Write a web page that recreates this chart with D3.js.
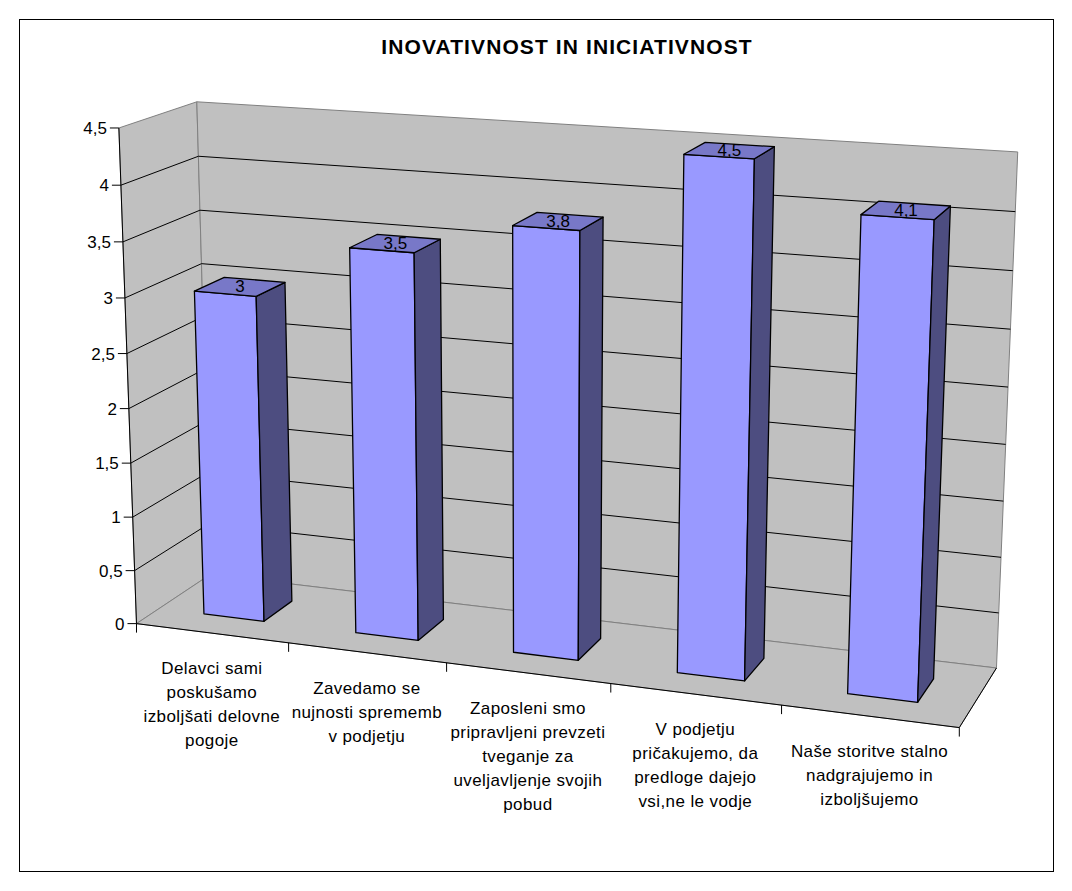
<!DOCTYPE html>
<html>
<head>
<meta charset="utf-8">
<script src="https://cdn.jsdelivr.net/npm/d3@7"></script>
<style>
  html, body { margin: 0; padding: 0; background: #fff; }
  svg { display: block; font-family: "Liberation Sans", Arial, sans-serif; }
</style>
</head>
<body>
<svg id="chart" width="1072" height="891"></svg>
<script>
// ---- data ----
const title = "INOVATIVNOST IN INICIATIVNOST";
const categories = [
  "Delavci sami poskušamo izboljšati delovne pogoje",
  "Zavedamo se nujnosti sprememb v podjetju",
  "Zaposleni smo pripravljeni prevzeti tveganje za uveljavljenje svojih pobud",
  "V podjetju pričakujemo, da predloge dajejo vsi,ne le vodje",
  "Naše storitve stalno nadgrajujemo in izboljšujemo"
];
const categoryLines = [
  ["Delavci sami", "poskušamo", "izboljšati delovne", "pogoje"],
  ["Zavedamo se", "nujnosti sprememb", "v podjetju"],
  ["Zaposleni smo", "pripravljeni prevzeti", "tveganje za", "uveljavljenje svojih", "pobud"],
  ["V podjetju", "pričakujemo, da", "predloge dajejo", "vsi,ne le vodje"],
  ["Naše storitve stalno", "nadgrajujemo in", "izboljšujemo"]
];
const values = [3, 3.5, 3.8, 4.5, 4.1];
const valueLabels = ["3", "3,5", "3,8", "4,5", "4,1"];
const yTicks = [0, 0.5, 1, 1.5, 2, 2.5, 3, 3.5, 4, 4.5];
const yTickLabels = ["0", "0,5", "1", "1,5", "2", "2,5", "3", "3,5", "4", "4,5"];

// ---- scales (model space: across 0..1, height 0..1, depth 0..1) ----
const x = d3.scaleBand().domain(d3.range(categories.length)).range([0, 1])
  .paddingInner(0.6).paddingOuter(0.3);
const y = d3.scaleLinear().domain([0, 4.5]).range([0, 1]);
const depth = [0.3, 0.7]; // column depth inside the floor

// ---- perspective camera: fitted from the frame's screen anchors ----
// [across, value, depth, screenX, screenY]
const frameAnchors = [
  [0, 0, 0, 137.3, 623.3], [0, 4.5, 0, 118, 127.7], [0, 4.5, 1, 197.7, 101.7],
  [0, 0, 1, 209.4, 574.8], [1, 0, 0, 959.5, 727.5], [1, 0, 1, 996.7, 667.3],
  [1, 4.5, 1, 1017.7, 152.3],
  [0.2, 0, 0, 288.3, 643.3], [0.4, 0, 0, 446.7, 663.3], [0.6, 0, 0, 610, 683.3],
  [0.8, 0, 0, 781.7, 705.5],
  [0, 4, 0, 120.7, 185], [0, 3.5, 0, 122, 241.7], [0, 3, 0, 125, 299.3],
  [0, 2.5, 0, 127.5, 354], [0, 2, 0, 129.5, 408], [0, 1.5, 0, 131.3, 462],
  [0, 1, 0, 133, 516], [0, 0.5, 0, 134.3, 571.7]
];

function fitCamera(pts) {
  const S = 500;
  const rows = [], rhs = [];
  pts.forEach(([a, v, d, sx, sy]) => {
    const X = a, Y = y(v), Z = d, u = (sx - S) / S, w = (sy - S) / S;
    rows.push([X, Y, Z, 1, 0, 0, 0, 0, -u * X, -u * Y, -u * Z]); rhs.push(u);
    rows.push([0, 0, 0, 0, X, Y, Z, 1, -w * X, -w * Y, -w * Z]); rhs.push(w);
  });
  const n = 11;
  const M = d3.range(n).map(i => d3.range(n + 1).map(j => {
    if (j === n) return d3.sum(rows, (r, k) => r[i] * rhs[k]);
    return d3.sum(rows, r => r[i] * r[j]);
  }));
  for (let c = 0; c < n; c++) {
    let p = c;
    for (let r = c + 1; r < n; r++) if (Math.abs(M[r][c]) > Math.abs(M[p][c])) p = r;
    [M[c], M[p]] = [M[p], M[c]];
    for (let r = 0; r < n; r++) {
      if (r === c) continue;
      const f = M[r][c] / M[c][c];
      for (let k = c; k <= n; k++) M[r][k] -= f * M[c][k];
    }
  }
  const p = M.map((r, i) => r[n] / r[i]);
  return (X, Y, Z) => {
    const den = p[8] * X + p[9] * Y + p[10] * Z + 1;
    return [
      (p[0] * X + p[1] * Y + p[2] * Z + p[3]) / den * S + S,
      (p[4] * X + p[5] * Y + p[6] * Z + p[7]) / den * S + S
    ];
  };
}
const cam = fitCamera(frameAnchors);
// value-space helper
const P = (a, v, d) => cam(a, y(v), d);
const poly = pts => "M" + pts.map(p => p.map(c => c.toFixed(2)).join(",")).join("L") + "Z";
const line = (p, q) => `M${p[0].toFixed(2)},${p[1].toFixed(2)}L${q[0].toFixed(2)},${q[1].toFixed(2)}`;

const svg = d3.select("#chart");
const vmax = y.domain()[1];

// chart area border
svg.append("rect").attr("x", 19.5).attr("y", 19.5).attr("width", 1034).attr("height", 852)
  .attr("fill", "#fff").attr("stroke", "#000").attr("stroke-width", 1);

// title
svg.append("text").attr("x", 567).attr("y", 54).attr("text-anchor", "middle")
  .attr("font-size", 21).attr("font-weight", "bold").attr("letter-spacing", 1.1)
  .attr("fill", "#000").text(title);

// walls and floor
const wallFill = "#c0c0c0", edge = "#808080";
const gWalls = svg.append("g");
gWalls.append("path").attr("d", poly([P(0, 0, 0), P(0, vmax, 0), P(0, vmax, 1), P(0, 0, 1)]))
  .attr("fill", wallFill).attr("stroke", edge);
gWalls.append("path").attr("d", poly([P(0, 0, 1), P(0, vmax, 1), P(1, vmax, 1), P(1, 0, 1)]))
  .attr("fill", wallFill).attr("stroke", edge);
gWalls.append("path").attr("d", poly([P(0, 0, 0), P(1, 0, 0), P(1, 0, 1), P(0, 0, 1)]))
  .attr("fill", wallFill).attr("stroke", edge);

// gridlines on side and back walls
const grid = yTicks.filter(v => v > 0 && v < vmax);
gWalls.selectAll("path.grid").data(grid).join("path").attr("class", "grid")
  .attr("d", v => "M" + [P(0, v, 0), P(0, v, 1), P(1, v, 1)].map(p => p.join(",")).join("L"))
  .attr("fill", "none").attr("stroke", "#000").attr("stroke-width", 1);

// axes
const gAxes = svg.append("g").attr("stroke", "#000").attr("fill", "none");
gAxes.append("path").attr("d", line(P(0, 0, 0), P(0, vmax, 0)));
gAxes.append("path").attr("d", line(P(0, 0, 0), P(1, 0, 0)));
gAxes.append("path").attr("d", line(P(1, 0, 0), P(1, 0, 1)));

// value ticks + labels
yTicks.forEach((v, i) => {
  const [ax, ay] = P(0, v, 0);
  gAxes.append("path").attr("d", line([ax - 9, ay], [ax, ay]));
  svg.append("text").attr("x", ax - 12).attr("y", ay).attr("dy", "0.35em")
    .attr("text-anchor", "end").attr("font-size", 17).attr("fill", "#000").text(yTickLabels[i]);
});

// category ticks
d3.range(categories.length + 1).forEach(i => {
  const [tx, ty] = P(i * x.step(), 0, 0);
  gAxes.append("path").attr("d", line([tx, ty], [tx, ty + 9]));
});

// category labels
categoryLines.forEach((lines, i) => {
  const [cx, cy] = P(x(i) + x.bandwidth() / 2, 0, 0);
  const t = svg.append("text").attr("text-anchor", "middle").attr("font-size", 17)
    .attr("letter-spacing", 0.4).attr("fill", "#000");
  lines.forEach((s, k) => {
    t.append("tspan").attr("x", cx).attr("y", cy + 41 + k * 24).text(s);
  });
});

// columns
const gBars = svg.append("g").attr("stroke", "#000").attr("stroke-width", 1.3).attr("stroke-linejoin", "round");
values.forEach((v, i) => {
  const x0 = x(i), x1 = x(i) + x.bandwidth(), z0 = depth[0], z1 = depth[1];
  gBars.append("path").attr("fill", "#9999ff")
    .attr("d", poly([P(x0, 0, z0), P(x1, 0, z0), P(x1, v, z0), P(x0, v, z0)]));
  gBars.append("path").attr("fill", "#4d4d80")
    .attr("d", poly([P(x1, 0, z0), P(x1, 0, z1), P(x1, v, z1), P(x1, v, z0)]));
  gBars.append("path").attr("fill", "#7878c8")
    .attr("d", poly([P(x0, v, z0), P(x1, v, z0), P(x1, v, z1), P(x0, v, z1)]));
  const [lx, ly] = P((x0 + x1) / 2, v, (z0 + z1) / 2);
  svg.append("text").attr("x", lx).attr("y", ly).attr("dy", "0.33em")
    .attr("text-anchor", "middle").attr("font-size", 17).attr("fill", "#000").text(valueLabels[i]);
});
</script>
</body>
</html>
